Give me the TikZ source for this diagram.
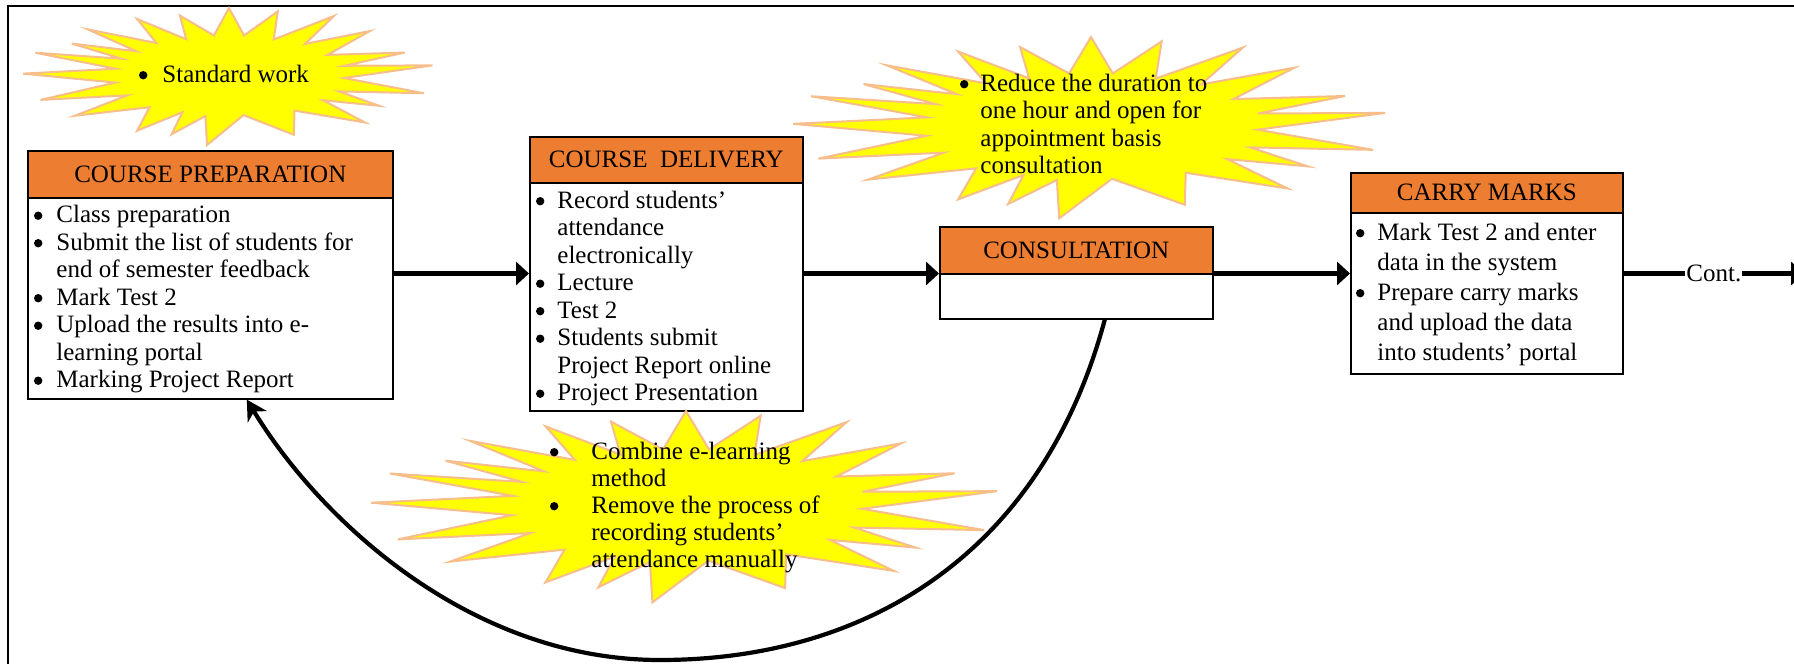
\documentclass[tikz,border=0pt]{standalone}
\usepackage{fontspec}
\setmainfont{Liberation Serif}
\usetikzlibrary{arrows.meta,calc}

\newdimen\px \px=0.5pt
\definecolor{hdrorange}{HTML}{ED7D31}
\definecolor{burstfill}{HTML}{FFFF00}
\definecolor{burstline}{HTML}{F7BE8C}

\newcommand{\bodyfont}{\fontsize{12.5pt}{13.75pt}\selectfont}
% round list bullet
\newcommand{\bul}{\tikz[x=1pt,y=1pt,baseline=0pt]\fill (2.3pt,3.4pt) circle[radius=2.1pt];}
% bullet list: #1 width of the bullet column, #2 rows
\newcommand{\blist}[2]{\begin{tabular}[t]{@{}p{#1}@{}l@{}}#2\end{tabular}}
% explosion outline centred at (#1,#2) with radii #3 and #4
\newcommand{\explosion}[4]{%
  \filldraw[burst] ({#1},{#2-#4})
  \foreach \a/\r in {83/0.6, 76/0.98, 68/0.58, 60/1.02, 52/0.6, 44/0.95,
      33/0.57, 22/0.92, 15/0.58, 9/1.0, -3/0.56, -15/0.98, -23/0.58,
      -31/0.85, -38/0.58, -46/0.95, -58/0.6, -70/0.92, -83/0.58,
      -96/1.02, -101/0.6, -108/0.9, -113/0.58, -119/0.92, -130/0.6,
      -142/0.95, -150/0.57, -159/0.98, -170/0.56, 178/1.0, 169/0.56,
      160/1.0, 154/0.58, 148/0.9, 141/0.58, 135/0.97, 126/0.6,
      118/0.95, 111/0.58, 105/0.92, 97/0.6}
    { -- ({#1+#3*\r*cos(\a)},{#2-#4*\r*sin(\a)}) } -- cycle;}

\tikzset{
  burst/.style={fill=burstfill, draw=burstline, line width=1pt, line join=miter},
  hdrbox/.style={draw=black, line width=0.8pt, fill=hdrorange, anchor=north west,
    inner sep=0pt, font=\bodyfont},
  bodybox/.style={draw=black, line width=0.8pt, fill=white, anchor=north west,
    inner sep=0pt},
  listtext/.style={anchor=base west, inner sep=0pt, font=\bodyfont},
  flow/.style={line width=2.6pt, -{Triangle[length=6.5pt,width=11.5pt]}},
  backloop/.style={line width=2.1pt, -{Stealth[length=10pt,width=11pt,inset=3pt]}},
  frameline/.style={line width=1.2pt}
}

\begin{document}
\begin{tikzpicture}[x=0.5pt, y=-0.5pt]
\useasboundingbox (0,0) rectangle (1794,664);

% outer frame (left and top edges)
\draw[frameline] (8,680) -- (8,6) -- (1810,6);

% level of the main flow
\coordinate (lvl) at (0,273.5);

% process boxes
\node[hdrbox, minimum width=182.5pt, minimum height=23.5pt] (prepH) at (27,150) {COURSE PREPARATION};
\node[bodybox, minimum width=182.5pt, minimum height=100.5pt] (prepB) at (27,197) {};

\node[hdrbox, minimum width=136.5pt, minimum height=23pt] (delH) at (529,136) {COURSE\ \ DELIVERY};
\node[bodybox, minimum width=136.5pt, minimum height=114pt] (delB) at (529,182) {};

\node[hdrbox, minimum width=136.5pt, minimum height=23.5pt] (conH) at (939,226) {CONSULTATION};
\node[bodybox, minimum width=136.5pt, minimum height=22.5pt] (conB) at (939,273) {};

\node[hdrbox, minimum width=136pt, minimum height=20pt] (carH) at (1350,172) {CARRY MARKS};
\node[bodybox, minimum width=136pt, minimum height=80.5pt] (carB) at (1350,212) {};

% return loop from consultation back to preparation
\draw[backloop] ($(conB.south)+(28.5,0)$)
  .. controls (1040,560) and (860,660) .. (660,660)
  .. controls (470,660) and (320,520) .. ($(prepB.south)+(36.5,0)$);

% improvement notes
\explosion{229}{76}{206}{68}
\explosion{1091}{127}{298}{90}
\explosion{686}{506}{315}{95}

\node[listtext] (noteA) at (138.6,82) {\blist{23.4\px}{\bul & Standard work}};
\node[listtext] (noteB) at (959.6,91) {\blist{20.4\px}{%
  \bul & Reduce the duration to\\
  & one hour and open for\\
  & appointment basis\\
  & consultation}};
\node[listtext, font=\fontsize{12.5pt}{13.5pt}\selectfont] (noteC) at (549.6,459) {\blist{41.4\px}{%
  \bul & Combine e-learning\\
  & method\\
  \bul & Remove the process of\\
  & recording students’\\
  & attendance manually}};

% box contents
\node[listtext] (prepL) at (33.6,222.5) {\blist{22.4\px}{%
  \bul & Class preparation\\
  \bul & Submit the list of students for\\
  & end of semester feedback\\
  \bul & Mark Test 2\\
  \bul & Upload the results into e-\\
  & learning portal\\
  \bul & Marking Project Report}};

\node[listtext] (delL) at (535.6,208) {\blist{21.4\px}{%
  \bul & Record students’\\
  & attendance\\
  & electronically\\
  \bul & Lecture\\
  \bul & Test 2\\
  \bul & Students submit\\
  & Project Report online\\
  \bul & Project Presentation}};

\node[listtext, font=\fontsize{12.5pt}{15pt}\selectfont] (carL) at (1355.6,240) {\blist{21.4\px}{%
  \bul & Mark Test 2 and enter\\
  & data in the system\\
  \bul & Prepare carry marks\\
  & and upload the data\\
  & into students’ portal}};

% main flow
\coordinate (beyond) at (1804,273.5);
\draw[flow] (prepB.east |- lvl) -- (delB.west |- lvl);
\draw[flow] (delB.east |- lvl) -- (conB.west |- lvl);
\draw[flow] (conB.east |- lvl) -- (carB.west |- lvl);
\draw[flow] (carB.east |- lvl) -- node[fill=white, inner sep=0.6pt, font=\bodyfont] (cont) {Cont.} (beyond);
\end{tikzpicture}
\end{document}
